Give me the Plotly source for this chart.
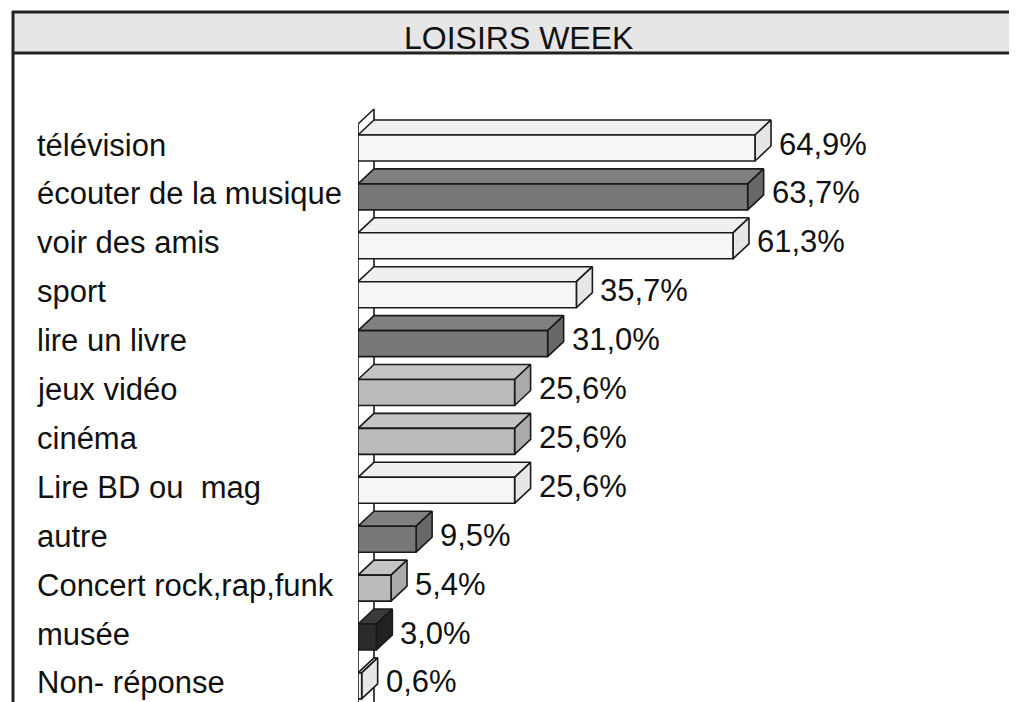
import plotly.graph_objects as go

# ---- data ----
categories = ["télévision", "écouter de la musique", "voir des amis", "sport",
              "lire un livre", "jeux vidéo", "cinéma", "Lire BD ou  mag", "autre",
              "Concert rock,rap,funk", "musée", "Non- réponse"]
values = [64.9, 63.7, 61.3, 35.7, 31.0, 25.6, 25.6, 25.6, 9.5, 5.4, 3.0, 0.6]
shade = ["white", "dark", "white", "white", "dark", "light", "light", "white",
         "dark", "light", "black", "white"]
title_text = "LOISIRS WEEK"

# ---- styles ----
palette = {
    "white": ("#f6f6f6", "#efefef", "#e6e6e6"),
    "dark": ("#787878", "#808080", "#686868"),
    "light": ("#bbbbbb", "#c4c4c4", "#aaaaaa"),
    "black": ("#2b2b2b", "#3a3a3a", "#222222"),
}
FONT = "Liberation Sans, Arial, sans-serif"
OFF = 8                       # default page body margin
W, H = 1017 - OFF, 702 - OFF  # figure size
ML, MT, MB = 358 - OFF, 60 - OFF, 0
PW = 600
MR = W - ML - PW
PH = H - MT - MB
PX_PER_UNIT = 6.117           # px per percent
XMAX = PW / PX_PER_UNIT
ROW_PX = 48.9
Y0_PX = 148 - OFF             # pixel centre of first row (figure coords)
YMIN = -(Y0_PX - MT) / ROW_PX
YMAX = YMIN + PH / ROW_PX
BAR_H = 26 / ROW_PX
DX = 16 / PX_PER_UNIT
DY = -15 / ROW_PX
LINE = dict(color="#1a1a1a", width=1.6)
FRAME = dict(color="#222222", width=3)

def px2paper_x(px):
    return (px - OFF - ML) / PW

def px2paper_y(py):
    return (H - MB - (py - OFF)) / PH

fig = go.Figure()

# back wall along the axis
wall_top = -0.49
fig.add_trace(go.Scatter(
    x=[0, 0, DX, DX, 0], y=[YMAX + 1, wall_top, wall_top + DY, YMAX + 1, YMAX + 1],
    fill="toself", fillcolor="#ffffff", line=LINE, mode="lines",
    hoverinfo="skip", showlegend=False))

for i, (cat, v, s) in enumerate(zip(categories, values, shade)):
    front, top, side = palette[s]
    yt, yb = i - BAR_H / 2, i + BAR_H / 2
    # top face
    fig.add_trace(go.Scatter(
        x=[0, v, v + DX, DX, 0], y=[yt, yt, yt + DY, yt + DY, yt],
        fill="toself", fillcolor=top, line=LINE, mode="lines",
        hoverinfo="skip", showlegend=False))
    # right face
    fig.add_trace(go.Scatter(
        x=[v, v, v + DX, v + DX, v], y=[yt, yb, yb + DY, yt + DY, yt],
        fill="toself", fillcolor=side, line=LINE, mode="lines",
        hoverinfo="skip", showlegend=False))
    # front face
    fig.add_trace(go.Scatter(
        x=[0, v, v, 0, 0], y=[yt, yt, yb, yb, yt],
        fill="toself", fillcolor=front, line=LINE, mode="lines",
        name=cat, hoverinfo="x+name", showlegend=False))
    # category label
    fig.add_annotation(x=px2paper_x(35), xref="paper", y=i, yref="y",
                       text=cat, showarrow=False, xanchor="left", yanchor="middle",
                       yshift=3, font=dict(family=FONT, size=31, color="#111111"))
    # value label
    fig.add_annotation(x=v + DX, xref="x", y=i, yref="y",
                       text=f"{v:.1f}".replace(".", ",") + "%", showarrow=False,
                       xanchor="left", yanchor="middle", xshift=6, yshift=4,
                       font=dict(family=FONT, size=31, color="#111111"))

# title band (fill + top/bottom rules) and left frame
fig.add_shape(type="rect", xref="paper", yref="paper",
              x0=px2paper_x(13), x1=px2paper_x(1017 + 30),
              y0=px2paper_y(53), y1=px2paper_y(12),
              fillcolor="#e6e6e6", line=dict(width=0), layer="below")
for yy in (12, 53):
    fig.add_shape(type="line", xref="paper", yref="paper",
                  x0=px2paper_x(12), x1=px2paper_x(1017 + 30),
                  y0=px2paper_y(yy), y1=px2paper_y(yy), line=FRAME)
fig.add_shape(type="line", xref="paper", yref="paper",
              x0=px2paper_x(13), x1=px2paper_x(13),
              y0=px2paper_y(11), y1=px2paper_y(702 + 10), line=FRAME)
fig.add_annotation(x=px2paper_x(518), xref="paper", y=px2paper_y(38), yref="paper",
                   text=title_text, showarrow=False, xanchor="center", yanchor="middle",
                   font=dict(family=FONT, size=32, color="#111111"))

fig.update_xaxes(range=[0, XMAX], visible=False, showgrid=False, zeroline=False)
fig.update_yaxes(range=[YMAX, YMIN], visible=False, showgrid=False, zeroline=False)
fig.update_layout(width=W, height=H, margin=dict(l=ML, r=MR, t=MT, b=MB),
                  plot_bgcolor="white", paper_bgcolor="white",
                  font=dict(family=FONT), showlegend=False)

fig.write_html("out.html",
               post_script="document.documentElement.style.overflow='hidden';"
                           "document.body.style.overflow='hidden';")
